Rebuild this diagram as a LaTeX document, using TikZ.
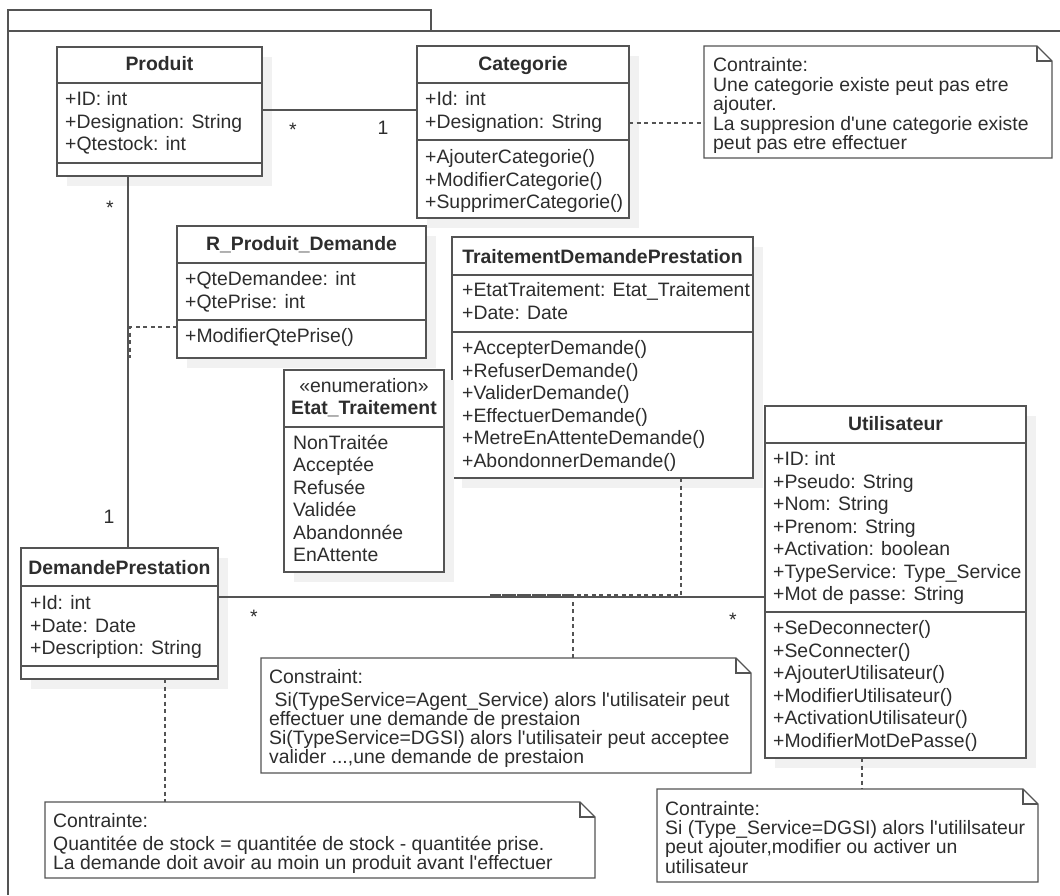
\documentclass[tikz,border=0pt]{standalone}
\usepackage{fontspec}
\setmainfont{Liberation Sans}
\usetikzlibrary{calc}

\definecolor{edge}{RGB}{84,84,84}
\definecolor{ink}{RGB}{45,45,45}
\definecolor{shadowgray}{RGB}{241,241,241}

\newcommand\sq{\textquotesingle}

% class box: name, left, top, right, bottom, divider rows
\newcommand\umlclass[6]{%
  \fill[shadowgray] (#2+10,#3+10) rectangle (#4+10,#5+10);
  \node[cls, minimum width=#4pt-#2pt, minimum height=#5pt-#3pt] (#1) at (#2,#3) {};
  \foreach \d in {#6} {\draw[edgeline] (#2,\d) -- (#4,\d);}
}
% note with folded corner: name, left, top, right, bottom
\newcommand\umlnote[5]{%
  \node[inner sep=0pt, outer sep=0pt, anchor=north west,
        minimum width=#4pt-#2pt, minimum height=#5pt-#3pt] (#1) at (#2,#3) {};
  \draw[notebox] (#1.north west) -- ($(#1.north east)+(-15,0)$) -- ($(#1.north east)+(0,15)$)
     -- (#1.south east) -- (#1.south west) -- cycle;
  \draw[edgeline, line join=miter] ($(#1.north east)+(-15,0)$) -- ($(#1.north east)+(-15,15)$) -- ($(#1.north east)+(0,15)$);
}

\tikzset{
  every node/.style={font=\fontsize{19.4}{22.5}\selectfont, text=ink},
  cls/.style={draw=edge, line width=1.4pt, fill=white, inner sep=0pt, outer sep=0pt, anchor=north west},
  edgeline/.style={draw=edge, line width=1.4pt},
  frameline/.style={draw=edge, line width=1.4pt},
  dotline/.style={draw=edge, line width=1.4pt, dash pattern=on 4pt off 3.5pt},
  notebox/.style={draw=edge, line width=1.4pt, fill=white, line join=miter},
  row/.style={anchor=base west, inner sep=0pt},
  title/.style={anchor=base, inner sep=0pt, font=\fontsize{19.4}{22.5}\selectfont\bfseries},
  stereo/.style={anchor=base, inner sep=0pt},
  mult/.style={anchor=base, inner sep=0pt},
}

\begin{document}
\begin{tikzpicture}[x=1pt,y=-1pt]
\useasboundingbox (0,0) rectangle (1060,895);
\fill[white] (0,0) rectangle (1060,895);

% package frame
\draw[frameline] (8,31) -- (8,10) -- (431,10) -- (431,31);
\draw[frameline] (1060,31) -- (8,31) -- (8,895);

% ---------- classes ----------
\umlclass{produit}{57}{47}{262}{176}{83,163}
\node[title] (produit-t) at (159.5,70.5) {Produit};
\foreach \t [count=\i from 0] in {+ID: int, +Designation: String, +Qtestock: int}
  \node[row] (produit-a\i) at (65,105.5+22.5*\i) {\t};

\umlclass{categorie}{417}{46}{629}{218}{83,140}
\node[title] (categorie-t) at (523,70.5) {Categorie};
\foreach \t [count=\i from 0] in {+Id: int, +Designation: String}
  \node[row] (categorie-a\i) at (425,105.5+22.8*\i) {\t};
\foreach \t [count=\i from 0] in {+AjouterCategorie(), +ModifierCategorie(), +SupprimerCategorie()}
  \node[row] (categorie-m\i) at (425,163.5+22.5*\i) {\t};

\umlclass{rpd}{177}{226}{426}{358}{263,320}
\node[title] (rpd-t) at (301.5,250.5) {R\_Produit\_Demande};
\foreach \t [count=\i from 0] in {+QteDemandee: int, +QtePrise: int}
  \node[row] (rpd-a\i) at (185,285.5+23*\i) {\t};
\node[row] (rpd-m0) at (185,342.5) {+ModifierQtePrise()};

\umlclass{tdp}{452}{237}{753}{478}{275,332}
\node[title] (tdp-t) at (602.5,263.5) {TraitementDemandePrestation};
\foreach \t [count=\i from 0] in {+EtatTraitement: Etat\_Traitement, +Date: Date}
  \node[row] (tdp-a\i) at (462,296.5+23*\i) {\t};
\foreach \t [count=\i from 0] in {+AccepterDemande(), +RefuserDemande(), +ValiderDemande(),
    +EffectuerDemande(), +MetreEnAttenteDemande(), +AbondonnerDemande()}
  \node[row] (tdp-m\i) at (462,354.5+22.6*\i) {\t};

\umlclass{etat}{284}{370}{444}{572}{427}
\node[stereo] (etat-s) at (364,392.5) {«enumeration»};
\node[title] (etat-t) at (364,414.5) {Etat\_Traitement};
\foreach \t [count=\i from 0] in {NonTraitée, Acceptée, Refusée, Validée, Abandonnée, EnAttente}
  \node[row] (etat-v\i) at (293,449.5+22.4*\i) {\t};

\umlclass{demande}{21}{548}{218}{679}{586,666}
\node[title] (demande-t) at (119.5,574.5) {DemandePrestation};
\foreach \t [count=\i from 0] in {+Id: int, +Date: Date, +Description: String}
  \node[row] (demande-a\i) at (30,609.5+22.5*\i) {\t};

\umlclass{utilisateur}{765}{406}{1026}{758}{443,612}
\node[title] (utilisateur-t) at (895.5,430.5) {Utilisateur};
\foreach \t [count=\i from 0] in {+ID: int, +Pseudo: String, +Nom: String, +Prenom: String,
    +Activation: boolean, +TypeService: Type\_Service, +Mot de passe: String}
  \node[row] (utilisateur-a\i) at (773,465.5+22.5*\i) {\t};
\foreach \t [count=\i from 0] in {+SeDeconnecter(), +SeConnecter(), +AjouterUtilisateur(),
    +ModifierUtilisateur(), +ActivationUtilisateur(), +ModifierMotDePasse()}
  \node[row] (utilisateur-m\i) at (773,634.5+22.6*\i) {\t};

% ---------- notes ----------
\umlnote{n1}{704}{46}{1052}{158}
\foreach \t [count=\i from 0] in {{Contrainte:}, {Une categorie existe peut pas etre}, {ajouter.},
    {La suppresion d\sq une categorie existe}, {peut pas etre effectuer}}
  \node[row] (n1-l\i) at (713,71.5+19.5*\i) {\t};

\umlnote{n2}{261}{658}{751}{773}
\node[row] (n2-l0) at (269,683) {Constraint:};
\node[row] (n2-l1) at (269,706) {\hspace*{5.4pt}Si(TypeService=Agent\_Service) alors l\sq utilisateir peut};
\node[row] (n2-l2) at (269,725) {effectuer une demande de prestaion};
\node[row] (n2-l3) at (269,744.3) {Si(TypeService=DGSI) alors l\sq utilisateir peut acceptee};
\node[row] (n2-l4) at (269,763.5) {valider ...,une demande de prestaion};

\umlnote{n3}{45}{802}{595}{878}
\node[row] (n3-l0) at (53,827) {Contrainte:};
\node[row] (n3-l1) at (53,850) {Quantitée de stock = quantitée de stock - quantitée prise.};
\node[row] (n3-l2) at (53,869) {La demande doit avoir au moin un produit avant l\sq effectuer};

\umlnote{n4}{657}{789}{1038}{882}
\foreach \t [count=\i from 0] in {{Contrainte:}, {Si (Type\_Service=DGSI) alors l\sq utililsateur},
    {peut ajouter,modifier ou activer un}, {utilisateur}}
  \node[row] (n4-l\i) at (665,815+19.4*\i) {\t};

% ---------- associations ----------
\coordinate (yPC) at (0,110);
\draw[edgeline] (produit.east |- yPC) -- (categorie.west |- yPC);
\node[mult] (m-pc1) at (293,136) {*};
\node[mult] (m-pc2) at (383,134) {1};

\coordinate (xPD) at (128,0);
\draw[edgeline] (produit.south -| xPD) -- (demande.north -| xPD);
\node[mult] (m-pd1) at (110,214) {*};
\node[mult] (m-pd2) at (109,523) {1};

% association class R_Produit_Demande
\coordinate (yRP) at (0,327);
\coordinate (cRP) at (130,358);
\draw[dotline] (rpd.west |- yRP) -- (cRP |- yRP) -- (cRP);

\coordinate (yDU) at (0,597);
\draw[edgeline] (demande.east |- yDU) -- (utilisateur.west |- yDU);
\node[mult] (m-du1) at (254,623) {*};
\node[mult] (m-du2) at (733,626) {*};

% association class TraitementDemandePrestation and its constraint
\coordinate (tdpFoot) at (681,595);
\coordinate (assocMid) at (490,595);
\coordinate (noteFoot) at (573,595);
\draw[dotline] (tdp.south -| tdpFoot) -- (tdpFoot) -- (assocMid);
\draw[dotline] (n2.north -| noteFoot) -- (noteFoot) -- (assocMid);

% note anchors
\coordinate (yCN) at (0,123);
\draw[dotline] (categorie.east |- yCN) -- (n1.west |- yCN);
\coordinate (xDN) at (165,0);
\draw[dotline] (demande.south -| xDN) -- (n3.north -| xDN);
\coordinate (xUN) at (862,0);
\draw[dotline] (utilisateur.south -| xUN) -- (n4.north -| xUN);
\end{tikzpicture}
\end{document}
